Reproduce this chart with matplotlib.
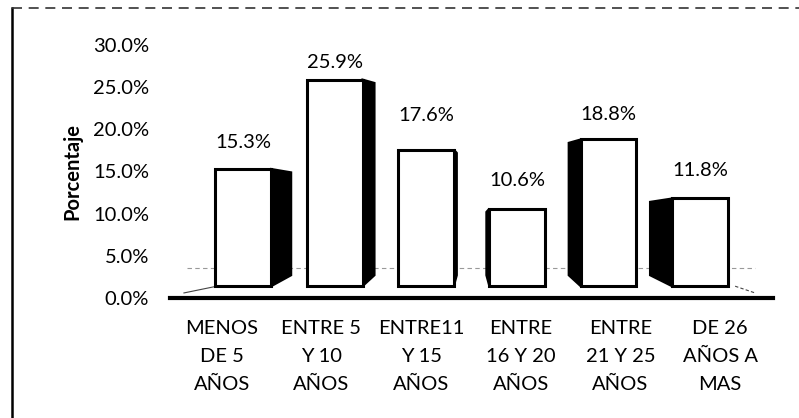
import matplotlib.pyplot as plt
from matplotlib.lines import Line2D
from matplotlib.patches import Polygon
import numpy as np

plt.rcParams["font.family"] = ["Lato", "DejaVu Sans"]

categories = [
    "MENOS\nDE 5\nAÑOS",
    "ENTRE 5\nY 10\nAÑOS",
    "ENTRE11\nY 15\nAÑOS",
    "ENTRE\n16 Y 20\nAÑOS",
    "ENTRE\n21 Y 25\nAÑOS",
    "DE 26\nAÑOS A\nMAS",
]
values = [15.3, 25.9, 17.6, 10.6, 18.8, 11.8]
y_ticks = [0, 5, 10, 15, 20, 25, 30]

# fake 3D look: front faces shifted by perspective, black side faces
pos = np.arange(len(categories))
front_x = pos * 0.916 + 0.216
front_w = 0.56
floor = 1.4
depth = [0.20, 0.12, 0.03, -0.03, -0.12, -0.22]
label_gap = [3.1, 2.0, 4.0, 3.3, 2.9, 3.3]

fig = plt.figure(figsize=(7.99, 4.18), dpi=100)
ax = fig.add_axes([170 / 799, 1 - 298 / 418, 603 / 799, 253 / 418])

# floor back edge
ax.plot([-0.35, 5.35], [3.6, 3.6], color="#999999", lw=0.8, ls=(0, (4, 3)), zorder=1)
ax.plot([-0.38, -0.05], [0.6, 1.4], color="#444444", lw=0.8, zorder=1)
ax.plot([5.15, 5.35], [1.4, 0.6], color="#444444", lw=0.8, ls=(0, (3, 2)), zorder=1)

for xc, v, d in zip(front_x, values, depth):
    edge = xc + front_w / 2 if d > 0 else xc - front_w / 2
    side = Polygon(
        [(edge, floor), (edge + d, floor + 1.3), (edge + d, v - 0.4), (edge, v)],
        closed=True, facecolor="black", edgecolor="black", lw=1.5, zorder=2,
    )
    ax.add_patch(side)

ax.bar(front_x, np.array(values) - floor, bottom=floor, width=front_w,
       color="white", edgecolor="black", linewidth=2.2, zorder=3)

for xc, v, g in zip(front_x, values, label_gap):
    ax.text(xc, v + g, f"{v:.1f}%", ha="center", va="center", fontsize=14.5, zorder=4)

ax.set_xlim(-0.52, 5.53)
ax.set_ylim(0, 30)
ax.set_xticks(pos)
ax.set_xticklabels(categories, fontsize=14.5, linespacing=1.78)
ax.set_yticks(y_ticks)
ax.set_yticklabels([f"{t:.1f}%" for t in y_ticks], fontsize=14.5)
ax.tick_params(axis="both", length=0)
ax.tick_params(axis="y", pad=15)
ax.tick_params(axis="x", pad=16)
ax.set_ylabel("Porcentaje", fontsize=14.5, fontweight="bold", labelpad=8)

for s in ["top", "right", "left"]:
    ax.spines[s].set_visible(False)
ax.spines["bottom"].set_linewidth(3)
ax.spines["bottom"].set_color("black")

# scanned frame edges
fig.add_artist(Line2D([12 / 799, 12 / 799], [0, 1 - 8 / 418], color="black", lw=1.8))
fig.add_artist(Line2D([12 / 799, 1.0], [1 - 8 / 418, 1 - 8 / 418], color="#333333", lw=1.2,
                      ls=(0, (6, 4))))

fig.savefig("out.png", dpi=100)
